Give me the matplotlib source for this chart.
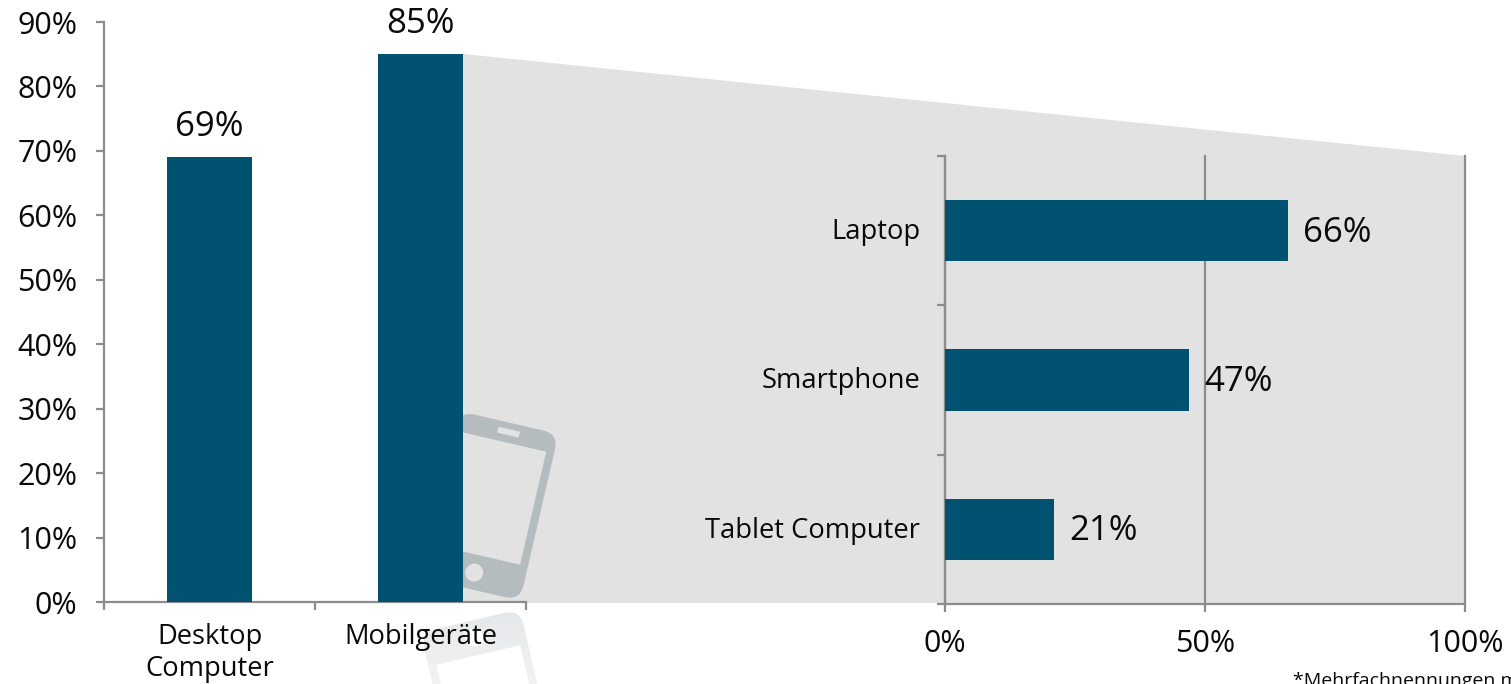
import numpy as np
import matplotlib
matplotlib.use("Agg")
import matplotlib.pyplot as plt
from matplotlib.patches import Polygon, Circle, FancyBboxPatch
from matplotlib.transforms import Affine2D

W, H = 1511, 684

main_labels = ["Desktop\nComputer", "Mobilgeräte"]
main_values = [69, 85]
main_ticks = [0, 10, 20, 30, 40, 50, 60, 70, 80, 90]

detail_labels = ["Laptop", "Smartphone", "Tablet Computer"]
detail_values = [66, 47, 21]
detail_ticks = [0, 50, 100]

footnote = "*Mehrfachnennungen möglich"

BAR = "#005270"
AXIS = "#8c8c8c"
SHADE = "#e2e2e2"
TEXT = "#0a0a0a"

plt.rcParams["font.family"] = ["Open Sans", "DejaVu Sans"]


def axes_px(fig, left, top, right, bottom):
    return fig.add_axes([left / W, 1 - bottom / H, (right - left) / W, (bottom - top) / H])


def draw_phone(ax, base, body, screen, speaker, zorder=1):
    # phone icon in its own coordinates (origin = top right corner), rotated 13 deg
    t = Affine2D().rotate_deg(13).translate(558.5, 434) + base + ax.transData
    ax.add_patch(FancyBboxPatch((-102 + 16, 16), 102 - 32, 171 - 32, boxstyle="round,pad=16,rounding_size=16",
                                fc=body, ec="none", transform=t, zorder=zorder))
    ax.add_patch(Polygon([(-94, 20), (-8, 20), (-8, 136), (-94, 136)], fc=screen, ec="none", transform=t, zorder=zorder))
    ax.add_patch(Polygon([(-60, 6.5), (-38, 6.5), (-38, 12.5), (-60, 12.5)], fc=speaker, ec="none", transform=t, zorder=zorder))
    ax.add_patch(Circle((-51, 154), 9, fc=speaker, ec="none", transform=t, zorder=zorder))


fig = plt.figure(figsize=(W / 100, H / 100), dpi=100, facecolor="white")

# background layer in pixels: grey zoom wedge, phone and its reflection
bg = axes_px(fig, 0, 0, W, H)
bg.axis("off")
bg.add_patch(Polygon([(463, 54), (1465, 156), (1465, 603), (463, 603)], fc=SHADE, ec="none", zorder=0))
draw_phone(bg, Affine2D(), "#b5bcbf", SHADE, SHADE)
mirror = Affine2D().translate(0, -605).scale(1, -1).translate(0, 605)
draw_phone(bg, mirror, "#e4e7e9", "white", "white")
# reflection fades out towards the bottom
fade = np.ones((64, 1, 4))
fade[:, 0, 3] = np.linspace(0, 0.5, 64)
bg.imshow(fade, extent=(400, 600, 684, 606), aspect="auto", zorder=2)
bg.set_xlim(0, W)
bg.set_ylim(H, 0)

# main chart
ax = axes_px(fig, 104, 22, 526, 602)
ax.patch.set_alpha(0)
ax.set_xlim(0, 2)
ax.set_ylim(0, 90)
x = np.arange(len(main_values)) + 0.5
ax.bar(x, main_values, width=0.4, color=BAR, zorder=3)
for xi, v in zip(x, main_values):
    ax.text(xi, v + 2.0, f"{v}%", ha="center", va="bottom", fontsize=25, color=TEXT, clip_on=False)
ax.set_yticks(main_ticks)
ax.set_yticklabels([f"{t}%" for t in main_ticks])
ax.set_xticks([0, 1, 2])
ax.set_xticklabels([])
for xi, lab in zip(x, main_labels):
    ax.text(xi, -3.3, lab, ha="center", va="top", fontsize=19.7, color=TEXT, linespacing=1.2)
ax.spines[["top", "right"]].set_visible(False)
ax.spines[["left", "bottom"]].set_color(AXIS)
ax.spines[["left", "bottom"]].set_linewidth(1.6)
ax.tick_params(axis="both", length=6, width=1.6, color=AXIS)
ax.tick_params(axis="y", labelsize=22, labelcolor=TEXT, pad=13)

# detail chart
ax2 = axes_px(fig, 945, 156, 1465, 604)
ax2.patch.set_alpha(0)
ax2.set_xlim(0, 100)
ax2.set_ylim(2.5, -0.5)
y = np.arange(len(detail_values))
ax2.barh(y, detail_values, height=0.41, color=BAR, zorder=3)
for yi, v in zip(y, detail_values):
    ax2.annotate(f"{v}%", (v, yi), xytext=(11, -1.5), textcoords="offset points", ha="left", va="center",
                 fontsize=25, color=TEXT, zorder=4)
ax2.set_xticks(detail_ticks)
ax2.set_xticklabels([f"{t}%" for t in detail_ticks], fontsize=22, color=TEXT)
ax2.set_yticks(np.arange(-0.5, 3))
ax2.set_yticklabels([])
for yi, lab in zip(y, detail_labels):
    ax2.annotate(lab, (0, yi), xytext=(-18, -1), textcoords="offset points", ha="right", va="center",
                 fontsize=19.7, color=TEXT)
ax2.xaxis.grid(True, color=AXIS, linewidth=1.6, zorder=1)
for line in ax2.get_xgridlines():
    line.set_clip_on(False)
ax2.set_axisbelow(True)
ax2.spines[["top", "right"]].set_visible(False)
ax2.spines[["left", "bottom"]].set_color(AXIS)
ax2.spines[["left", "bottom"]].set_linewidth(1.6)
ax2.tick_params(axis="both", length=6, width=1.6, color=AXIS)
ax2.tick_params(axis="x", pad=12)

fig.text(1293 / W, 1 - 672 / H, footnote, ha="left", va="top", fontsize=14, color=TEXT)

fig.savefig("out.png", dpi=100, facecolor="white")
plt.close(fig)
